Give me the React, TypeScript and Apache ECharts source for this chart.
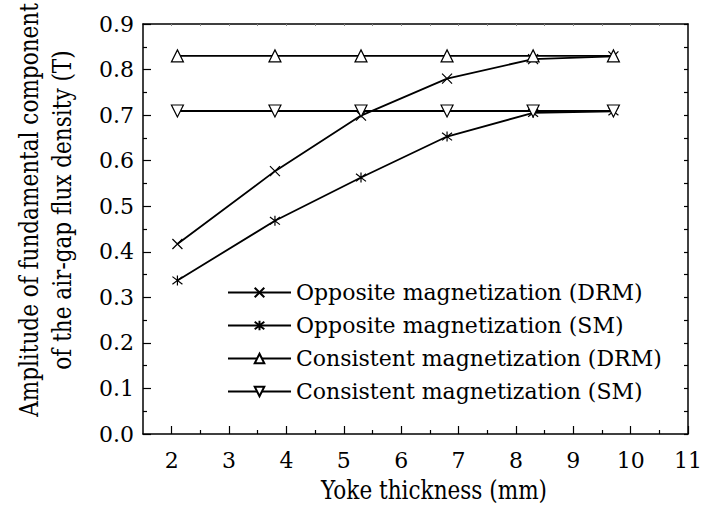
import React, { useEffect, useRef } from "react";
import * as echarts from "echarts";

const thickness = [2.1, 3.8, 5.3, 6.8, 8.3, 9.7];
const oppositeDRM = [0.417, 0.577, 0.699, 0.78, 0.823, 0.829];
const oppositeSM = [0.337, 0.468, 0.563, 0.653, 0.705, 0.708];
const consistentDRM = [0.83, 0.83, 0.83, 0.83, 0.83, 0.83];
const consistentSM = [0.709, 0.709, 0.709, 0.709, 0.709, 0.709];

const seriesNames = [
  "Opposite magnetization (DRM)",
  "Opposite magnetization (SM)",
  "Consistent magnetization (DRM)",
  "Consistent magnetization (SM)",
];

const xMajorTicks = [2, 3, 4, 5, 6, 7, 8, 9, 10, 11];
const xMinorTicks = [2.5, 3.5, 4.5, 5.5, 6.5, 7.5, 8.5, 9.5, 10.5];
const xTopTicks = [2, 2.5, 3, 3.5, 4, 4.5, 5, 5.5, 6, 6.5, 7, 7.5, 8, 8.5, 9, 9.5, 10, 10.5];

const xTitle = "Yoke thickness (mm)";
const yTitle = "Amplitude of fundamental component\nof the air-gap flux density (T)";

const FONT = "DejaVu Serif";

const CROSS = "path://M0,0L10,10M10,0L0,10";
const STAR = "path://M0,0L10,10M10,0L0,10M5,-1.5L5,11.5";

export default function App() {
  const ref = useRef<HTMLDivElement>(null);
  useEffect(() => {
    if (!ref.current) return;
    const chart = echarts.init(ref.current, undefined, { renderer: "svg" });
    const pts = (ys: number[]) => thickness.map((x, i) => [x, ys[i]]);
    const mkSeries = (name: string, ys: number[], symbol: string, size: number, rotate = 0) => ({
      name,
      type: "line",
      data: pts(ys),
      symbol,
      symbolSize: size,
      symbolRotate: rotate,
      showSymbol: true,
      color: "#000",
      lineStyle: { color: "#000", width: 1.8 },
      itemStyle: { color: "#fff", borderColor: "#000", borderWidth: 1.2 },
      emphasis: { disabled: true },
      z: 3,
    });
    const common = {
      type: "value",
      min: 1.5,
      max: 11,
      gridIndex: 0,
      splitLine: { show: false },
    };
    chart.setOption({
      animation: false,
      backgroundColor: "#fff",
      textStyle: { fontFamily: FONT },
      grid: { left: 143, right: 13, top: 24, bottom: 75, containLabel: false },
      legend: {
        orient: "vertical",
        left: 227,
        top: 280,
        padding: 0,
        itemWidth: 63,
        itemHeight: 12,
        itemGap: 8,
        data: seriesNames,
        textStyle: { fontFamily: FONT, fontSize: 22, color: "#000", lineHeight: 25 },
      },
      xAxis: [
        {
          ...common,
          position: "bottom",
          axisLine: { show: true, onZero: false, lineStyle: { color: "#000", width: 1.5 } },
          axisTick: { show: true, inside: true, length: 8, customValues: xMajorTicks, lineStyle: { color: "#000", width: 1.2 } },
          axisLabel: { show: true, customValues: xMajorTicks, fontFamily: FONT, fontSize: 22, color: "#000", margin: 15 },
        },
        {
          ...common,
          position: "bottom",
          axisLine: { show: false, onZero: false },
          axisTick: { show: true, inside: true, length: 4, customValues: xMinorTicks, lineStyle: { color: "#000", width: 1.2 } },
          axisLabel: { show: false },
        },
        {
          ...common,
          position: "top",
          axisLine: { show: true, onZero: false, lineStyle: { color: "#000", width: 1.5 } },
          axisTick: { show: true, inside: true, length: 2, customValues: xTopTicks, lineStyle: { color: "#888", width: 1 } },
          axisLabel: { show: false },
        },
      ],
      yAxis: [
        {
          type: "value",
          min: 0,
          max: 0.9,
          interval: 0.1,
          position: "left",
          splitLine: { show: false },
          axisLine: { show: true, onZero: false, lineStyle: { color: "#000", width: 1.5 } },
          axisTick: { show: true, inside: true, length: 8, lineStyle: { color: "#000", width: 1.2 } },
          minorTick: { show: true, splitNumber: 2, length: 4, lineStyle: { color: "#000", width: 1.2 } },
          axisLabel: {
            fontFamily: FONT,
            fontSize: 22,
            color: "#000",
            margin: 9,
            formatter: (v: number) => v.toFixed(1),
          },
        },
        {
          type: "value",
          min: 0,
          max: 0.9,
          interval: 0.05,
          position: "right",
          splitLine: { show: false },
          axisLine: { show: true, onZero: false, lineStyle: { color: "#000", width: 1.5 } },
          axisTick: { show: true, inside: true, length: 4, lineStyle: { color: "#000", width: 1.2 } },
          axisLabel: { show: false },
        },
      ],
      graphic: [
        {
          type: "text",
          x: 434,
          y: 490,
          scaleX: 0.83,
          style: { text: xTitle, fontFamily: FONT, fontSize: 26, fill: "#000", textAlign: "center", textVerticalAlign: "middle" },
        },
        {
          type: "text",
          x: 46,
          y: 210,
          rotation: Math.PI / 2,
          scaleX: 0.83,
          style: { text: yTitle, fontFamily: FONT, fontSize: 26, lineHeight: 33, fill: "#000", textAlign: "center", textVerticalAlign: "middle" },
        },
      ],
      series: [
        mkSeries(seriesNames[0], oppositeDRM, CROSS, 10),
        mkSeries(seriesNames[1], oppositeSM, STAR, 10),
        mkSeries(seriesNames[2], consistentDRM, "triangle", 12),
        mkSeries(seriesNames[3], consistentSM, "triangle", 12, 180),
      ],
    });
    return () => chart.dispose();
  }, []);
  return <div ref={ref} style={{ position: "fixed", left: 0, top: 0, width: 705, height: 509 }} />;
}
